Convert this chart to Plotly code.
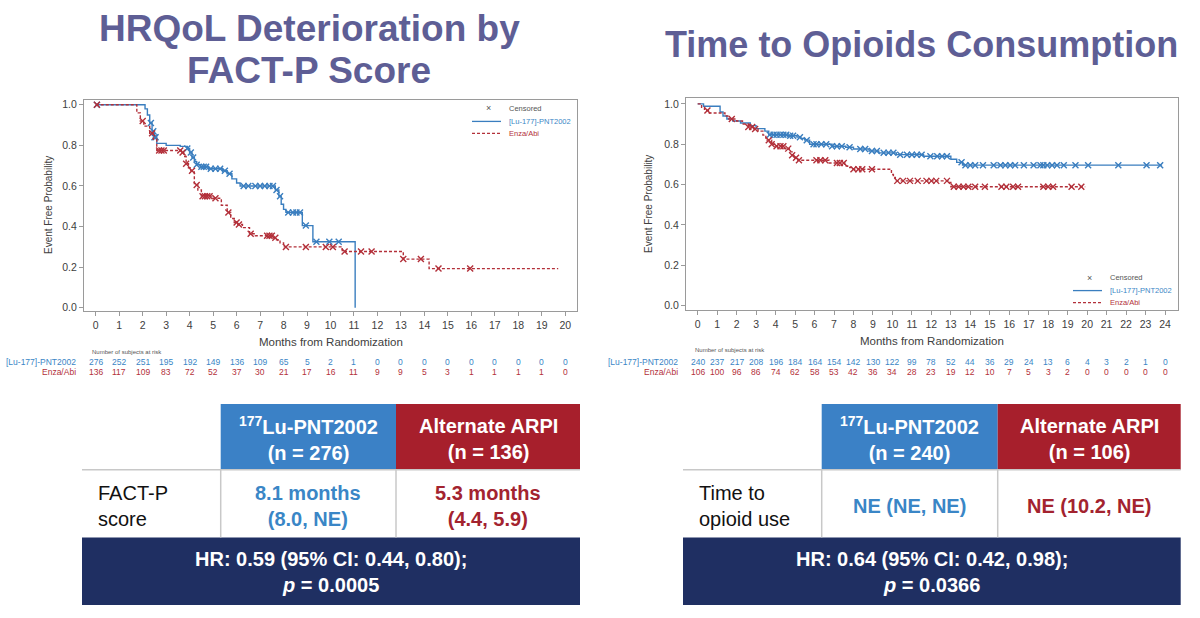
import numpy as np
import plotly.graph_objects as go

# ---------------- data ----------------
# Left panel: HRQoL deterioration (FACT-P)
fp_lu_t = [0, 2.1, 2.2, 2.3, 2.4, 2.5, 2.6, 3.0, 3.6, 3.9, 4.0, 4.1, 4.2, 4.3, 4.45, 4.8, 5.4, 5.6, 5.8, 6.0, 6.15, 7.65, 7.8, 7.9, 8.0, 8.1, 8.8, 9.25, 11.05]
fp_lu_s = [1.0, 0.98, 0.95, 0.91, 0.87, 0.84, 0.81, 0.80, 0.795, 0.785, 0.765, 0.74, 0.72, 0.705, 0.695, 0.685, 0.675, 0.66, 0.635, 0.615, 0.60, 0.58, 0.55, 0.51, 0.485, 0.47, 0.405, 0.325, 0.0]
fp_lu_cens = [0.05, 2.35, 2.45, 2.5, 2.55, 3.9, 4.05, 4.15, 4.3, 4.5, 4.6, 4.7, 4.9, 5.1, 5.3, 5.5, 5.7, 6.3, 6.5, 6.8, 7.0, 7.2, 7.4, 7.55, 7.7, 7.85, 8.2, 8.4, 8.55, 8.7, 8.95, 9.4, 9.95, 10.35]

fp_ea_t = [0, 1.75, 1.9, 2.05, 2.3, 2.45, 2.6, 3.65, 3.75, 3.85, 3.95, 4.05, 4.2, 4.35, 4.5, 4.95, 5.35, 5.6, 5.75, 5.9, 6.05, 6.25, 6.55, 6.8, 7.55, 7.7, 7.85, 8.0, 10.5, 13.1, 14.2, 19.7]
fp_ea_s = [1.0, 0.96, 0.92, 0.895, 0.86, 0.83, 0.775, 0.765, 0.745, 0.71, 0.69, 0.675, 0.605, 0.58, 0.55, 0.54, 0.505, 0.47, 0.44, 0.42, 0.41, 0.395, 0.365, 0.355, 0.345, 0.335, 0.32, 0.30, 0.277, 0.24, 0.193, 0.193]
fp_ea_cens = [0.05, 2.0, 2.4, 2.7, 2.8, 2.9, 3.6, 3.7, 3.85, 4.1, 4.3, 4.55, 4.65, 4.75, 4.85, 5.1, 5.65, 6.0, 6.1, 6.6, 7.3, 7.4, 7.5, 7.65, 8.1, 8.95, 9.8, 10.1, 10.6, 11.3, 11.75, 13.1, 13.85, 14.6, 15.95]

fp_months = list(range(0, 21))
fp_risk_lu = [276, 252, 251, 195, 192, 149, 136, 109, 65, 5, 2, 1, 0, 0, 0, 0, 0, 0, 0, 0, 0]
fp_risk_ea = [136, 117, 109, 83, 72, 52, 37, 30, 21, 17, 16, 11, 9, 9, 5, 3, 1, 1, 1, 1, 0]

# Right panel: time to opioid use
op_lu_t = [0, 0.3, 1.15, 1.3, 1.5, 1.8, 2.2, 2.7, 3.0, 3.45, 3.65, 4.6, 5.1, 5.3, 5.5, 5.75, 6.9, 7.6, 8.0, 8.8, 9.3, 10.2, 11.6, 13.0, 13.3, 13.6, 23.85]
op_lu_s = [1.0, 0.988, 0.96, 0.94, 0.925, 0.915, 0.905, 0.892, 0.877, 0.865, 0.847, 0.842, 0.835, 0.828, 0.82, 0.80, 0.79, 0.785, 0.776, 0.766, 0.757, 0.748, 0.74, 0.725, 0.71, 0.696, 0.696]
op_lu_cens = [3.7, 3.9, 4.05, 4.25, 4.4, 4.55, 4.75, 4.9, 5.25, 5.6, 5.95, 6.1, 6.35, 6.6, 6.9, 7.15, 7.4, 7.8, 8.35, 8.6, 8.95, 9.2, 9.55, 9.8, 10.05, 10.4, 10.75, 11.0, 11.25, 11.5, 11.95, 12.3, 12.55, 12.8, 13.55, 13.75, 14.0, 14.25, 14.65, 15.2, 15.55, 15.8, 16.05, 16.3, 16.75, 17.25, 17.6, 17.75, 17.95, 18.2, 18.45, 18.8, 19.4, 20.05, 21.6, 23.05, 23.75]

op_ea_t = [0, 0.2, 0.35, 0.55, 1.4, 1.6, 2.0, 2.3, 2.6, 2.9, 3.1, 3.35, 3.5, 3.8, 3.95, 4.45, 4.7, 4.85, 5.0, 5.15, 6.75, 7.55, 7.7, 7.9, 9.95, 10.05, 10.15, 12.9, 13.0, 19.9]
op_ea_s = [1.0, 0.983, 0.967, 0.955, 0.94, 0.925, 0.915, 0.90, 0.885, 0.875, 0.865, 0.845, 0.82, 0.80, 0.79, 0.778, 0.762, 0.745, 0.733, 0.72, 0.707, 0.692, 0.684, 0.676, 0.65, 0.635, 0.618, 0.61, 0.589, 0.589]
op_ea_cens = [0.5, 1.75, 2.6, 2.8, 2.95, 3.65, 3.8, 4.05, 4.25, 4.4, 4.65, 4.85, 5.05, 5.2, 6.1, 6.3, 6.55, 7.15, 7.3, 7.5, 8.0, 8.25, 8.45, 8.95, 10.25, 10.55, 10.9, 11.3, 11.75, 12.0, 12.25, 12.8, 13.15, 13.4, 13.65, 13.9, 14.25, 14.75, 15.6, 15.85, 16.2, 16.45, 17.75, 18.0, 18.25, 19.2, 19.7]

op_months = list(range(0, 25))
op_risk_lu = [240, 237, 217, 208, 196, 184, 164, 154, 142, 130, 122, 99, 78, 52, 44, 36, 29, 24, 13, 6, 4, 3, 2, 1, 0]
op_risk_ea = [106, 100, 96, 86, 74, 62, 58, 53, 42, 36, 34, 28, 23, 19, 12, 10, 7, 5, 3, 2, 0, 0, 0, 0, 0]

arm_labels = ["[Lu-177]-PNT2002", "Enza/Abi"]
titles = ["HRQoL Deterioration by", "FACT-P Score", "Time to Opioids Consumption"]

# ---------------- styles ----------------
W, H = 1200, 618
BLUE = "#3a7ebf"
RED = "#b3303a"
TITLE_C = "#5e5e95"
HDR_BLUE = "#3b81c6"
HDR_RED = "#a71f2c"
NAVY = "#1f2f62"
TXT_BLUE = "#3a86c6"
TXT_RED = "#a3232f"
SANS = "Liberation Sans, Arial, sans-serif"


def fx(px):
    return px / W


def fy(py):
    return 1 - py / H


def step_at(t, ts, ss):
    idx = np.searchsorted(np.array(ts), np.array(t), side="right") - 1
    return np.array(ss)[np.clip(idx, 0, len(ss) - 1)]


fig = go.Figure()

panels = [
    dict(xa="x", ya="y", lu=(fp_lu_t, fp_lu_s, fp_lu_cens), ea=(fp_ea_t, fp_ea_s, fp_ea_cens)),
    dict(xa="x2", ya="y2", lu=(op_lu_t, op_lu_s, op_lu_cens), ea=(op_ea_t, op_ea_s, op_ea_cens)),
]
for p in panels:
    for (ts, ss, cs), col, dash in [(p["lu"], BLUE, "solid"), (p["ea"], RED, "3px,2px")]:
        fig.add_trace(go.Scatter(x=ts, y=ss, mode="lines", line=dict(color=col, width=1.4, dash=dash, shape="hv"),
                                 xaxis=p["xa"], yaxis=p["ya"], showlegend=False, hoverinfo="skip"))
        fig.add_trace(go.Scatter(x=cs, y=step_at(cs, ts, ss), mode="markers",
                                 marker=dict(symbol="x-thin", size=6, line=dict(color=col, width=1.4), color=col),
                                 xaxis=p["xa"], yaxis=p["ya"], showlegend=False, hoverinfo="skip"))

axis_common = dict(showline=True, mirror=True, linecolor="#9a9a9a", linewidth=1, ticks="outside", ticklen=4,
                   tickcolor="#9a9a9a", showgrid=False, zeroline=False,
                   tickfont=dict(family=SANS, size=10.5, color="#404040"))

fig.update_layout(
    width=W, height=H, margin=dict(l=0, r=0, t=0, b=0), paper_bgcolor="white", plot_bgcolor="white",
    xaxis=dict(domain=[fx(84), fx(577)], range=[-0.5, 20.5], tickvals=fp_months, anchor="y", **axis_common),
    yaxis=dict(domain=[fy(311.7), fy(99)], range=[-0.0167, 1.026], tickvals=[0, 0.2, 0.4, 0.6, 0.8, 1.0],
               tickformat=".1f", anchor="x", **axis_common),
    xaxis2=dict(domain=[fx(686), fx(1177.7)], range=[-0.6, 24.65], tickvals=op_months, anchor="y2", **axis_common),
    yaxis2=dict(domain=[fy(311), fy(97.7)], range=[-0.025, 1.028], tickvals=[0, 0.2, 0.4, 0.6, 0.8, 1.0],
                tickformat=".1f", anchor="x2", **axis_common),
)

ann = []
shapes = []


def text(x, y, t, size, color="#333", family=SANS, xanchor="center", yanchor="middle", angle=0, xref="paper",
         align="center"):
    ann.append(dict(x=x if xref != "paper" else fx(x), y=fy(y), xref=xref, yref="paper", text=t, showarrow=False,
                    font=dict(size=size, color=color, family=family), xanchor=xanchor, yanchor=yanchor,
                    textangle=angle, align=align))


# titles
text(309, 28, "<b>%s</b>" % titles[0], 37, TITLE_C)
text(309, 70, "<b>%s</b>" % titles[1], 37, TITLE_C)
text(921, 44, "<b>%s</b>" % titles[2], 36, TITLE_C)

# axis titles
text(330.5, 343, "Months from Randomization", 11.5, "#404040")
text(932, 342, "Months from Randomization", 11.5, "#404040")
text(48, 205, "Event Free Probability", 10, "#404040", angle=-90)
text(648, 204, "Event Free Probability", 10, "#404040", angle=-90)

# risk tables
for months, rl, re, xr, lab_x, num_x, ynum in [
    (fp_months, fp_risk_lu, fp_risk_ea, "x", 78, 90, 352.5),
    (op_months, op_risk_lu, op_risk_ea, "x2", 680, 693, 351),
]:
    text(num_x, ynum, "Number of subjects at risk", 6, "#555", xanchor="left")
    text(lab_x, 363, arm_labels[0], 8.5, TXT_BLUE, xanchor="right")
    text(lab_x, 373, arm_labels[1], 8.5, RED, xanchor="right")
    for m, a, b in zip(months, rl, re):
        text(m, 363, str(a), 8.5, TXT_BLUE, xref=xr)
        text(m, 373, str(b), 8.5, RED, xref=xr)

# legends (drawn)
for lx, ly in [(472, 108), (1073, 278)]:
    text(lx + 16, ly, "×", 9, "#555")
    text(lx + 35, ly, "Censored", 7.5, "#555", xanchor="left")
    shapes.append(dict(type="line", xref="paper", yref="paper", x0=fx(lx), x1=fx(lx + 29), y0=fy(ly + 13),
                       y1=fy(ly + 13), line=dict(color=BLUE, width=1.3)))
    text(lx + 35, ly + 13, arm_labels[0], 7.5, TXT_BLUE, xanchor="left")
    shapes.append(dict(type="line", xref="paper", yref="paper", x0=fx(lx), x1=fx(lx + 29), y0=fy(ly + 25),
                       y1=fy(ly + 25), line=dict(color=RED, width=1.3, dash="3px,2px")))
    text(lx + 35, ly + 25, arm_labels[1], 7.5, RED, xanchor="left")


# summary tables
def rect(x0, x1, y0, y1, fill):
    shapes.append(dict(type="rect", xref="paper", yref="paper", x0=fx(x0), x1=fx(x1), y0=fy(y1), y1=fy(y0),
                       fillcolor=fill, line=dict(width=0), layer="below"))


def hline(x0, x1, y):
    shapes.append(dict(type="line", xref="paper", yref="paper", x0=fx(x0), x1=fx(x1), y0=fy(y), y1=fy(y),
                       line=dict(color="#c8c8c8", width=1.5)))


def vline(x, y0, y1):
    shapes.append(dict(type="line", xref="paper", yref="paper", x0=fx(x), x1=fx(x), y0=fy(y0), y1=fy(y1),
                       line=dict(color="#c8c8c8", width=1.5)))


tables = [
    dict(x0=82, c1=220.7, c2=396, x1=580, n_lu=276, n_ea=136, row="FACT-P<br>score",
         v_lu="8.1 months<br>(8.0, NE)", v_ea="5.3 months<br>(4.4, 5.9)",
         hr="HR: 0.59 (95% CI: 0.44, 0.80);<br><i>p</i> = 0.0005"),
    dict(x0=683, c1=821.7, c2=997.7, x1=1180.7, n_lu=240, n_ea=106, row="Time to<br>opioid use",
         v_lu="NE (NE, NE)", v_ea="NE (10.2, NE)",
         hr="HR: 0.64 (95% CI: 0.42, 0.98);<br><i>p</i> = 0.0366"),
]
for tb in tables:
    rect(tb["c1"], tb["c2"], 405, 471, HDR_BLUE)
    rect(tb["c2"], tb["x1"], 405, 471, HDR_RED)
    hline(tb["x0"], tb["x1"], 471)
    vline(tb["c1"], 471, 539)
    vline(tb["c2"], 471, 539)
    rect(tb["x0"], tb["x1"], 539, 607, NAVY)
    cb = (tb["c1"] + tb["c2"]) / 2
    cr = (tb["c2"] + tb["x1"]) / 2
    text(cb, 440, "<b><sup>177</sup>Lu-PNT2002<br>(n = %d)</b>" % tb["n_lu"], 20, "white")
    text(cr, 440, "<b>Alternate ARPI<br>(n = %d)</b>" % tb["n_ea"], 20, "white")
    text(tb["x0"] + 14, 507, tb["row"], 20, "#111", xanchor="left", align="left")
    text(cb, 507, "<b>%s</b>" % tb["v_lu"], 20, TXT_BLUE)
    text(cr, 507, "<b>%s</b>" % tb["v_ea"], 20, TXT_RED)
    text((tb["x0"] + tb["x1"]) / 2, 574, "<b>%s</b>" % tb["hr"], 20, "white")

fig.update_layout(annotations=ann, shapes=shapes)
fig.write_html("out.html")
